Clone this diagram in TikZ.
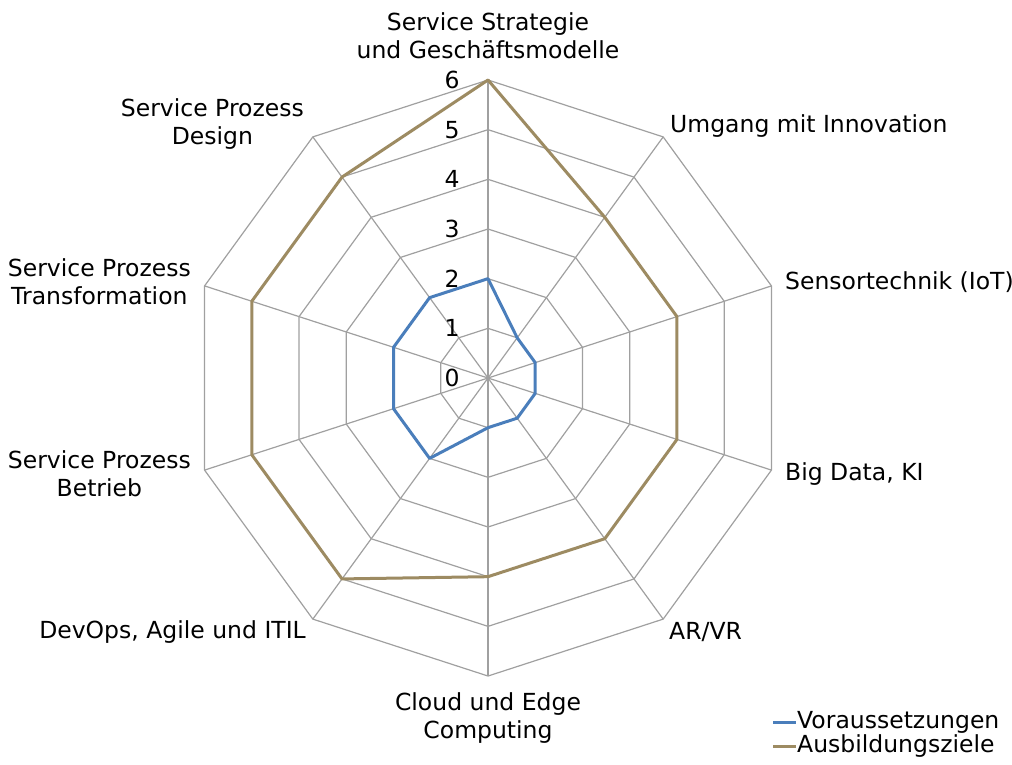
\documentclass[tikz,border=0pt]{standalone}
\usepackage{fontspec}
\setmainfont{DejaVu Sans}
\usetikzlibrary{calc}
\definecolor{gridgray}{HTML}{A0A0A0}
\definecolor{serblue}{HTML}{4A7EBB}
\definecolor{serbrown}{HTML}{9D8B62}
\begin{document}
\begin{tikzpicture}[x=1pt,y=-1pt,
  grid/.style={draw=gridgray,line width=1.2pt},
  ser1/.style={draw=serblue,line width=3pt,line join=round},
  ser2/.style={draw=serbrown,line width=3pt,line join=round},
  lab/.style={font=\fontsize{23.5}{28}\selectfont,inner sep=0pt,align=center},
  tick/.style={font=\fontsize{23.5}{26}\selectfont,inner sep=0pt}]
\useasboundingbox (0,0) rectangle (1012,764);
\coordinate (O) at (488,378);
% grid rings (angles measured clockwise from top; y axis points down)
\foreach \r in {1,...,6}{
  \draw[grid] ($(O)+(-90:{49.67*\r})$) \foreach \k in {1,...,9}{ -- ($(O)+({36*\k-90}:{49.67*\r})$)} -- cycle;
}
\foreach \k in {0,...,9}{
  \draw[grid] (O) -- ($(O)+({36*\k-90}:298)$);
}
% ticks
\foreach \t in {0,...,6}{
  \node[tick] (t\t) at (452,{378-49.67*\t}) {\t};
}
% series
\def\pt#1#2{($(O)+({36*#1-90}:{49.67*#2})$)}
\draw[ser1] \pt{0}{2} -- \pt{1}{1} -- \pt{2}{1} -- \pt{3}{1} -- \pt{4}{1} -- \pt{5}{1} -- \pt{6}{2} -- \pt{7}{2} -- \pt{8}{2} -- \pt{9}{2} -- cycle;
\draw[ser2] \pt{0}{6} -- \pt{1}{4} -- \pt{2}{4} -- \pt{3}{4} -- \pt{4}{4} -- \pt{5}{4} -- \pt{6}{5} -- \pt{7}{5} -- \pt{8}{5} -- \pt{9}{5} -- cycle;
% labels
\node[lab] (l0) at (488,36) {Service Strategie\\und Geschäftsmodelle};
\node[lab,anchor=west] (l1) at (670,126) {Umgang mit Innovation};
\node[lab,anchor=west] (l2) at (785,282) {Sensortechnik (IoT)};
\node[lab,anchor=west] (l3) at (785,474) {Big Data, KI};
\node[lab,anchor=west] (l4) at (669,632) {AR/VR};
\node[lab] (l5) at (488,718) {Cloud und Edge\\Computing};
\node[lab,anchor=east] (l6) at (306,632) {DevOps, Agile und ITIL};
\node[lab,anchor=east] (l7) at (191,474) {Service Prozess\\Betrieb};
\node[lab,anchor=east] (l8) at (191,282) {Service Prozess\\Transformation};
\node[lab,anchor=east] (l9) at (304,124) {Service Prozess\\Design};
% legend
\coordinate (a1) at (773,722); \coordinate (b1) at (796,722);
\coordinate (a2) at (773,746); \coordinate (b2) at (796,746);
\draw[serblue,line width=3pt] (a1) -- (b1);
\draw[serbrown,line width=3pt] (a2) -- (b2);
\node[lab,anchor=west] (g1) at (797,722) {Voraussetzungen};
\node[lab,anchor=west] (g2) at (797,746) {Ausbildungsziele};
\end{tikzpicture}
\end{document}
